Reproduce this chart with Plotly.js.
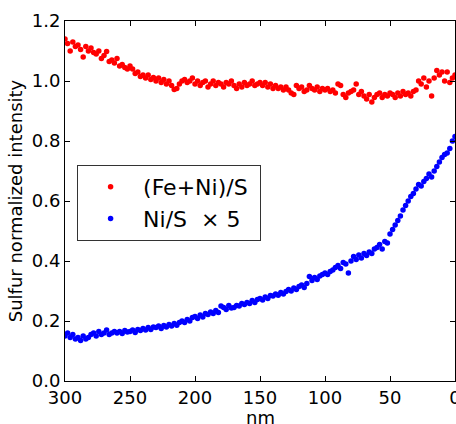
<!DOCTYPE html>
<html>
<head>
<meta charset="utf-8">
<script src="https://cdn.plot.ly/plotly-3.0.1.min.js"></script>
<style>html,body{margin:0;padding:0;background:#fff;}#chart{width:456px;height:424px;}</style>
</head>
<body>
<div id="chart"></div>
<script>
// Depth (nm), one sample every 2 nm
var depthNm = [300,298,296,294,292,290,288,286,284,282,280,278,276,274,272,270,268,266,264,262,
260,258,256,254,252,250,248,246,244,242,240,238,236,234,232,230,228,226,224,222,
220,218,216,214,212,210,208,206,204,202,200,198,196,194,192,190,188,186,184,182,
180,178,176,174,172,170,168,166,164,162,160,158,156,154,152,150,148,146,144,142,
140,138,136,134,132,130,128,126,124,122,120,118,116,114,112,110,108,106,104,102,
100,98,96,94,92,90,88,86,84,82,80,78,76,74,72,70,68,66,64,62,
60,58,56,54,52,50,48,46,44,42,40,38,36,34,32,30,28,26,24,22,
20,18,16,14,12,10,8,6,4,2,0];

// (Fe+Ni)/S
var feNiS = [1.14,1.125,1.10,1.13,1.115, 1.12,1.105,1.08,1.115,1.10,
1.11,1.095,1.09,1.10,1.075, 1.085,1.098,1.065,1.07,1.06,
1.075,1.05,1.055,1.045,1.04, 1.05,1.04,1.025,1.03,1.015,
1.02,1.01,1.02,1.005,1.012, 1.0,1.01,0.995,1.005,0.99,
1.0,0.985,0.972,0.975,0.99, 1.0,1.005,0.995,1.0,1.01,
0.99,1.0,0.985,0.995,1.0, 0.98,0.99,1.0,0.985,0.995,
0.99,0.98,0.995,0.99,1.0, 0.985,0.975,0.99,0.98,0.995,
0.985,0.99,1.0,0.985,0.99, 0.995,0.985,0.995,0.98,0.99,
0.975,0.985,0.975,0.98,0.97, 0.98,0.97,0.96,0.955,0.985,
0.975,0.98,0.965,0.97,0.985, 0.975,0.97,0.98,0.965,0.975,
0.97,0.975,0.965,0.97,0.96, 0.99,0.985,0.955,0.945,0.96,
0.965,0.97,0.99,0.955,0.965, 0.95,0.94,0.955,0.93,0.945,
0.955,0.96,0.945,0.955,0.95, 0.96,0.955,0.945,0.96,0.95,
0.965,0.955,0.96,0.95,0.965, 0.97,1.0,0.99,1.01,0.98,
1.0,0.95,1.01,1.035,1.02, 1.03,1.0,1.03,0.995,1.01,
1.02];

// Ni/S x 5
var niS5 = [0.15,0.16,0.145,0.155,0.14, 0.145,0.135,0.15,0.14,0.145,
0.155,0.16,0.15,0.165,0.155, 0.16,0.17,0.155,0.16,0.165,
0.16,0.165,0.158,0.168,0.163, 0.165,0.17,0.162,0.172,0.168,
0.175,0.17,0.178,0.172,0.18, 0.178,0.183,0.175,0.185,0.18,
0.188,0.183,0.192,0.186,0.195, 0.2,0.195,0.205,0.2,0.212,
0.215,0.208,0.22,0.213,0.225, 0.222,0.23,0.225,0.235,0.228,
0.25,0.245,0.238,0.252,0.243, 0.245,0.252,0.25,0.258,0.255,
0.262,0.258,0.268,0.262,0.272, 0.275,0.27,0.28,0.275,0.285,
0.283,0.29,0.286,0.295,0.29, 0.298,0.305,0.3,0.31,0.305,
0.315,0.32,0.312,0.325,0.348, 0.335,0.345,0.338,0.35,0.355,
0.36,0.355,0.365,0.37,0.378, 0.385,0.375,0.395,0.39,0.36,
0.40,0.415,0.405,0.42,0.41, 0.425,0.418,0.43,0.425,0.44,
0.445,0.455,0.44,0.465,0.46, 0.49,0.505,0.52,0.535,0.55,
0.57,0.585,0.6,0.615,0.625, 0.64,0.655,0.65,0.665,0.675,
0.69,0.68,0.7,0.715,0.73, 0.745,0.755,0.76,0.775,0.80,
0.815];

var seriesNames = ['(Fe+Ni)/S\u00a0', 'Ni/S\u00a0\u00a0\u00d7\u00a05'];
var seriesColors = ['#ff0000', '#0000ff'];
var xTitle = 'nm';
var yTitle = 'Sulfur normalized intensity';

var FONT = 'DejaVu Sans, Verdana, sans-serif';

var traces = [
  {x: depthNm, y: feNiS, name: seriesNames[0], type: 'scatter', mode: 'markers',
   marker: {color: seriesColors[0], size: 5.5}},
  {x: depthNm, y: niS5, name: seriesNames[1], type: 'scatter', mode: 'markers',
   marker: {color: seriesColors[1], size: 5.5}}
];

var axisCommon = {
  showline: true, linecolor: '#000', linewidth: 1, mirror: 'allticks',
  ticks: 'inside', ticklen: 5, tickwidth: 1, tickcolor: '#000',
  showgrid: false, zeroline: false, ticklabeloverflow: 'allow',
  tickfont: {family: FONT, size: 18, color: '#000'}
};

var layout = {
  width: 456, height: 424,
  margin: {l: 65, r: 1, t: 21, b: 43, pad: 0},
  paper_bgcolor: '#fff', plot_bgcolor: '#fff',
  showlegend: true,
  xaxis: Object.assign({}, axisCommon, {
    range: [300, 0], tickmode: 'linear', tick0: 0, dtick: 50
  }),
  yaxis: Object.assign({}, axisCommon, {
    range: [0, 1.2], tickmode: 'linear', tick0: 0, dtick: 0.2, tickformat: '.1f',
    title: {text: yTitle, font: {family: FONT, size: 18, color: '#000'}, standoff: 4}
  }),
  annotations: [{
    text: xTitle, xref: 'paper', yref: 'paper', x: 0.5, y: -0.101,
    xanchor: 'center', yanchor: 'middle', showarrow: false,
    font: {family: FONT, size: 18, color: '#000'}
  }],
  legend: {
    x: 0.031, y: 0.6, xanchor: 'left', yanchor: 'top',
    bgcolor: '#fff', bordercolor: '#333', borderwidth: 1,
    font: {family: FONT, size: 22, color: '#000'},
    itemwidth: 55
  }
};

Plotly.newPlot('chart', traces, layout, {displayModeBar: false, staticPlot: true});
</script>
</body>
</html>
